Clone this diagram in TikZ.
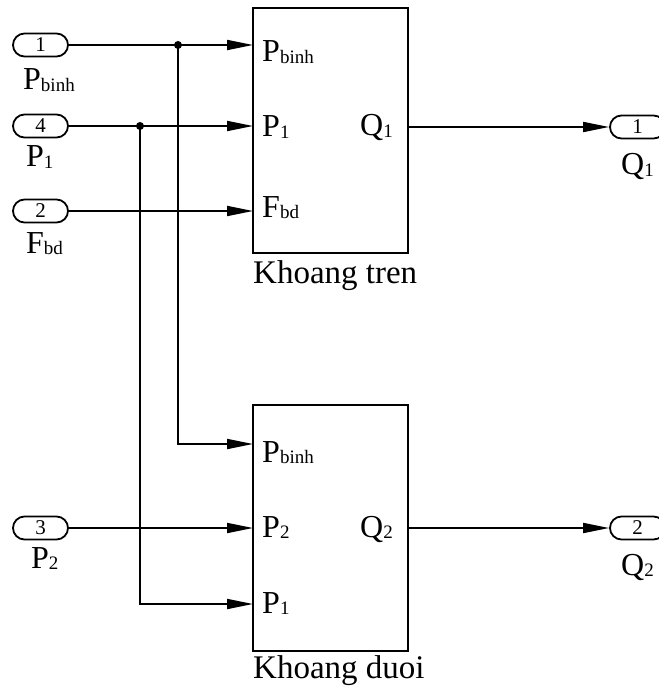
\documentclass[tikz,border=0pt]{standalone}
\usepackage{fontspec}
\setmainfont{Liberation Serif}
\usetikzlibrary{arrows.meta,shapes.misc}
\newcommand\sbt[1]{\raisebox{-1.5pt}{\fontsize{19}{21}\selectfont #1}}
\tikzset{
  lbl/.style={font=\fontsize{32}{38}\selectfont, inner sep=0pt, anchor=base west},
  ttl/.style={font=\fontsize{33}{39}\selectfont, inner sep=0pt, anchor=base west},
  port/.style={rounded rectangle, draw, line width=1.8pt, minimum width=55pt, minimum height=23pt, inner sep=0pt, font=\fontsize{21}{24}\selectfont},
  blk/.style={draw, line width=1.8pt, inner sep=0pt, minimum width=155pt},
  arr/.style={line width=1.8pt, -{Triangle[length=26pt,width=10pt]}},
  dot/.style={circle, fill, inner sep=0pt, minimum size=8pt}
}
\begin{document}
\begin{tikzpicture}[x=1pt,y=-1pt]
\useasboundingbox (0,0) rectangle (658,687);
% blocks
\node[blk, minimum height=245pt] (boxA) at (330.5,130.5) {};
\node[blk, minimum height=246pt] (boxB) at (330.5,528) {};
% input ports
\node[port] (in1) at (40.5,45) {1};
\node[port] (in4) at (40.5,126) {4};
\node[port] (in2) at (40.5,211) {2};
\node[port] (in3) at (40.5,528) {3};
% output ports
\node[port] (out1) at (637.5,127) {1};
\node[port] (out2) at (637.5,528) {2};
% labels of ports
\node[lbl] (lin1) at (23,90) {P\sbt{binh}};
\node[lbl] (lin4) at (26,167) {P\sbt{1}};
\node[lbl] (lin2) at (26,253) {F\sbt{bd}};
\node[lbl] (lin3) at (31,568) {P\sbt{2}};
\node[lbl] (lout1) at (621,175) {Q\sbt{1}};
\node[lbl] (lout2) at (621,575) {Q\sbt{2}};
% labels inside blocks
\node[lbl] (a1) at (262,62) {P\sbt{binh}};
\node[lbl] (a2) at (262,137) {P\sbt{1}};
\node[lbl] (a3) at (262,217) {F\sbt{bd}};
\node[lbl] (aq) at (360,136) {Q\sbt{1}};
\node[lbl] (b1) at (262,462) {P\sbt{binh}};
\node[lbl] (b2) at (262,537) {P\sbt{2}};
\node[lbl] (b3) at (262,613) {P\sbt{1}};
\node[lbl] (bq) at (360,537) {Q\sbt{2}};
% titles
\node[ttl] (ta) at (253,283) {Khoang tren};
\node[ttl] (tb) at (253,678) {Khoang duoi};
% port coordinates
\coordinate (A1) at (253,45);
\coordinate (A2) at (253,126);
\coordinate (A3) at (253,211);
\coordinate (B1) at (253,444);
\coordinate (B2) at (253,528);
\coordinate (B3) at (253,604);
\coordinate (AO) at (408,127);
\coordinate (BO) at (408,528);
\coordinate (j1) at (178,45);
\coordinate (j2) at (140,126);
% wires
\draw[arr] (in1.east) -- (A1);
\draw[arr] (in4.east) -- (A2);
\draw[arr] (in2.east) -- (A3);
\draw[arr] (in3.east) -- (B2);
\draw[arr] (j1) |- (B1);
\draw[arr] (j2) |- (B3);
\draw[arr] (AO) -- (out1.west);
\draw[arr] (BO) -- (out2.west);
\node[dot] (d1) at (j1) {};
\node[dot] (d2) at (j2) {};
\end{tikzpicture}
\end{document}
